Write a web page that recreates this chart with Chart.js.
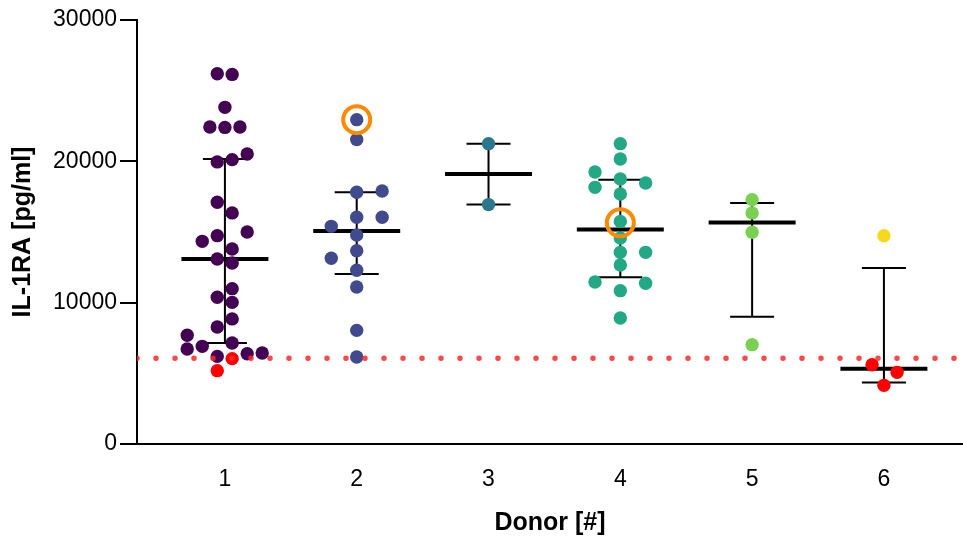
<!DOCTYPE html>
<html>
<head>
<meta charset="utf-8">
<script src="https://cdn.jsdelivr.net/npm/chart.js@4"></script>
<style>
  html, body { margin: 0; padding: 0; background: #fff; }
  canvas { display: block; }
</style>
</head>
<body>
<canvas id="myChart" width="963" height="538"></canvas>
<script>
// donors on the x axis
const donors = [1, 2, 3, 4, 5, 6];

// single measurements per donor (pg/ml) and their sideways spread (donor units)
const donor1Values = [26200, 26150, 23820, 22430, 22400, 22430, 20520, 19960, 20120, 17100, 16350, 14740, 15000, 14340, 13800, 13090, 12810, 10990, 10380, 10020, 8850, 8280, 7690, 6720, 6910, 7150, 6200, 6390, 6440, 6040, 5190];
const donor1Spread = [-0.058, 0.055, 0, -0.114, 0, 0.114, 0.169, -0.058, 0.055, -0.058, 0.055, -0.058, 0.169, -0.172, 0.055, -0.058, 0.055, 0.055, -0.058, 0.055, 0.055, -0.058, -0.286, -0.286, -0.172, 0.055, -0.058, 0.169, 0.283, 0.055, -0.058];
const donor2Values = [22950, 21540, 17810, 17900, 16040, 16040, 15400, 14790, 13680, 13140, 12290, 11110, 8040, 6160];
const donor2Spread = [0, 0, 0, 0.193, 0, 0.193, -0.193, 0, 0, -0.193, 0, 0, 0, 0];
const donor3Values = [21250, 16940];
const donor3Spread = [0, 0];
const donor4Values = [21250, 20170, 19250, 18750, 18470, 18160, 17690, 15750, 14580, 13560, 13560, 12670, 11460, 11370, 10850, 8920];
const donor4Spread = [0, 0, -0.192, 0, 0.192, -0.192, 0, 0, 0, 0, 0.192, 0, -0.192, 0.192, 0, 0];
const donor5Values = [17290, 16350, 14980, 7030];
const donor5Spread = [0, 0, 0, 0];
const donor6Values = [14740, 5610, 5070, 4150];
const donor6Spread = [0, -0.09, 0.1, 0];

// summary line and error bar per donor
const centerValues = [13090, 15070, 19110, 15170, 15680, 5330];
const lowValues = [7150, 12030, 16940, 11790, 9010, 4360];
const highValues = [20170, 17810, 21250, 18700, 17060, 12460];

// detection limit (dotted line), values below are red
const lodValue = 6060;

// highlighted measurements
const circledDonors = [2, 4];
const circledValues = [22950, 15650];

const yTicks = [0, 10000, 20000, 30000];

const donorColors = ['#440154', '#404a8c', '#2a788e', '#22a884', '#7ad151', '#f8d81a'];
const belowColor = '#ff0000';

const allValues = [donor1Values, donor2Values, donor3Values, donor4Values, donor5Values, donor6Values];
const allSpread = [donor1Spread, donor2Spread, donor3Spread, donor4Spread, donor5Spread, donor6Spread];

const xMin = 0.333, xMax = 6.6;
const meanHalf = 0.33, capHalf = 0.167;

let datasets = [];

// red dotted detection limit
datasets.push({
  data: [{ x: xMin, y: lodValue }, { x: xMax, y: lodValue }],
  showLine: true,
  borderColor: 'rgba(255, 40, 40, 0.85)',
  borderWidth: 5.5,
  borderDash: [0, 19],
  borderCapStyle: 'round',
  pointRadius: 0,
  order: 0
});

// orange rings
datasets.push({
  data: circledDonors.map(function(d, i) { return { x: d, y: circledValues[i] }; }),
  pointRadius: 13.5,
  pointBorderWidth: 4,
  pointBorderColor: '#ff8a00',
  pointBackgroundColor: 'rgba(0,0,0,0)',
  order: 1
});

// dots
donors.forEach(function(d, i) {
  let vals = allValues[i];
  datasets.push({
    data: vals.map(function(v, j) { return { x: d + allSpread[i][j], y: v }; }),
    pointRadius: 6.7,
    pointBorderWidth: 0,
    pointBackgroundColor: vals.map(function(v) { return v < lodValue ? belowColor : donorColors[i]; }),
    order: 2
  });
});

// centre lines and error bars
let centreData = [];
let whiskerData = [];
donors.forEach(function(d, i) {
  centreData.push({ x: d - meanHalf, y: centerValues[i] }, { x: d + meanHalf, y: centerValues[i] }, { x: d + 0.5, y: null });
  whiskerData.push({ x: d, y: lowValues[i] }, { x: d, y: highValues[i] }, { x: d + 0.5, y: null });
  whiskerData.push({ x: d - capHalf, y: highValues[i] }, { x: d + capHalf, y: highValues[i] }, { x: d + 0.5, y: null });
  whiskerData.push({ x: d - capHalf, y: lowValues[i] }, { x: d + capHalf, y: lowValues[i] }, { x: d + 0.5, y: null });
});
datasets.push({
  data: centreData,
  showLine: true,
  spanGaps: false,
  borderColor: '#000',
  borderWidth: 4,
  pointRadius: 0,
  order: 3
});
datasets.push({
  data: whiskerData,
  showLine: true,
  spanGaps: false,
  borderColor: '#000',
  borderWidth: 2,
  pointRadius: 0,
  order: 4
});

const tickFont = { family: 'Liberation Sans', size: 23 };
const titleFont = { family: 'Liberation Sans', size: 25, weight: 'bold' };

let ctx = document.getElementById('myChart').getContext('2d');
new Chart(ctx, {
  type: 'scatter',
  data: { datasets: datasets },
  options: {
    responsive: false,
    animation: false,
    layout: { autoPadding: false, padding: { top: 20, right: 0, bottom: 0, left: 0 } },
    plugins: { legend: { display: false }, tooltip: { enabled: false } },
    scales: {
      x: {
        type: 'linear',
        min: xMin,
        max: xMax,
        afterBuildTicks: function(s) { s.ticks = donors.map(function(v) { return { value: v }; }); },
        afterFit: function(s) { s.height = 94; s.paddingLeft = 0; s.paddingRight = 0; },
        grid: { display: false, drawTicks: false },
        border: { display: true, color: '#000', width: 2 },
        ticks: { padding: 22, color: '#000', font: tickFont, maxRotation: 0, callback: function(v) { return String(v); } },
        title: { display: true, text: 'Donor [#]', color: '#000', font: titleFont, padding: { top: 0, bottom: 0 } }
      },
      y: {
        min: 0,
        max: 30000,
        afterBuildTicks: function(s) { s.ticks = yTicks.map(function(v) { return { value: v }; }); },
        afterFit: function(s) { s.width = 137; },
        grid: { drawOnChartArea: false, drawTicks: true, tickLength: 17, color: '#000', lineWidth: 2 },
        border: { display: true, color: '#000', width: 2 },
        ticks: { padding: 3, color: '#000', font: tickFont, callback: function(v) { return String(v); } },
        title: { display: true, text: 'IL-1RA [pg/ml]', color: '#000', font: titleFont, padding: { top: 8, bottom: 0 } }
      }
    }
  }
});
</script>
</body>
</html>
